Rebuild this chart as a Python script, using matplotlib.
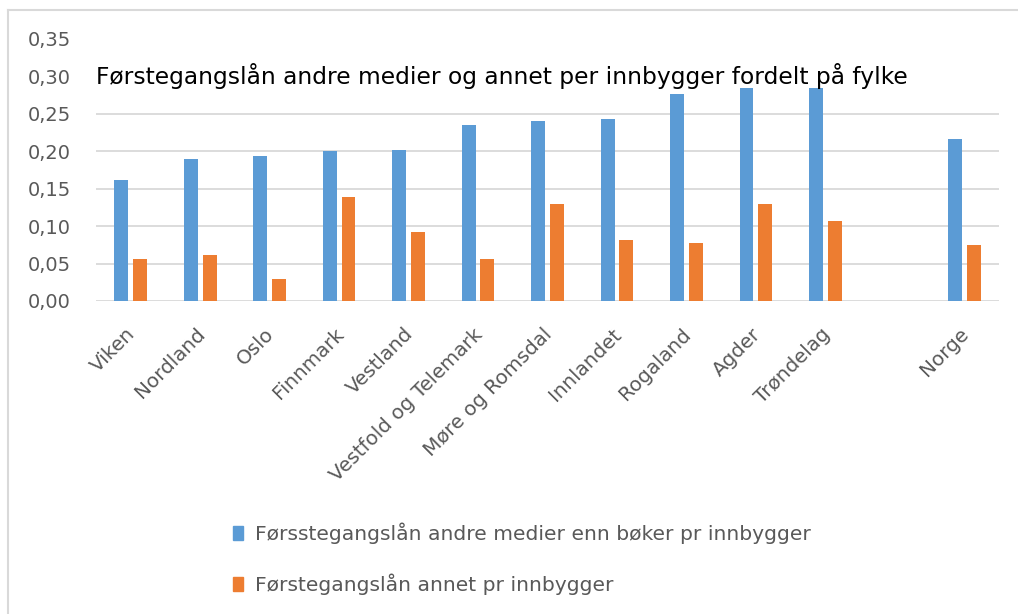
import matplotlib.pyplot as plt
import numpy as np
from matplotlib.patches import Patch, Rectangle
from matplotlib.lines import Line2D
from matplotlib.ticker import FuncFormatter
from matplotlib.transforms import ScaledTranslation

# fylker (tom plass før Norge)
fylker = ["Viken", "Nordland", "Oslo", "Finnmark", "Vestland",
          "Vestfold og Telemark", "Møre og Romsdal", "Innlandet",
          "Rogaland", "Agder", "Trøndelag", "", "Norge"]

# førstegangslån pr innbygger
andre_medier = [0.162, 0.190, 0.194, 0.200, 0.202, 0.235, 0.240, 0.243,
                0.277, 0.295, 0.300, np.nan, 0.216]
annet = [0.056, 0.061, 0.030, 0.139, 0.092, 0.056, 0.130, 0.081,
         0.078, 0.130, 0.107, np.nan, 0.075]

blue = "#5B9BD5"
orange = "#ED7D31"
grey = "#595959"

plt.rcParams["font.family"] = ["DejaVu Sans"]

fig = plt.figure(figsize=(10.18, 6.14), dpi=100)
ax = fig.add_axes([96 / 1018, 1 - 301 / 614, (999 - 96) / 1018, (301 - 39) / 614])

x = np.arange(len(fylker))
w = 0.2
ax.bar(x - 0.135, andre_medier, w, color=blue, zorder=2)
ax.bar(x + 0.135, annet, w, color=orange, zorder=2)

ax.set_xlim(-0.5, len(fylker) - 0.5)
ax.set_ylim(0, 0.35)
ax.set_yticks(np.arange(0, 0.351, 0.05))
ax.yaxis.set_major_formatter(FuncFormatter(lambda v, p: f"{v:.2f}".replace(".", ",")))
ax.grid(axis="y", color="#d9d9d9", lw=1.3, zorder=0)
for s in ax.spines.values():
    s.set_visible(False)
ax.tick_params(length=0)
ax.tick_params(axis="y", labelsize=14, labelcolor=grey, pad=18)
ax.set_xticks(x)
ax.set_xticklabels(fylker, rotation=45, ha="right", rotation_mode="anchor",
                   fontsize=14.3, color=grey)
ax.tick_params(axis="x", pad=17)
shift = ScaledTranslation(-5 / 100, 0, fig.dpi_scale_trans)
for lab in ax.get_xticklabels():
    lab.set_transform(lab.get_transform() + shift)

# hvit boks bak tittelen (dekker toppen av plottet)
ax.add_patch(Rectangle((-0.5, 0.284), len(fylker), 0.07, facecolor="white",
                       edgecolor="none", zorder=3, clip_on=False))
ax.text(-0.5, 0.30, "Førstegangslån andre medier og annet per innbygger fordelt på fylke",
        fontsize=16.8, color="black", va="center", ha="left", zorder=4)

handles = [Patch(color=blue), Patch(color=orange)]
labels = ["Førsstegangslån andre medier enn bøker pr innbygger",
          "Førstegangslån annet pr innbygger"]
fig.legend(handles, labels, loc="upper left", bbox_to_anchor=(0.229, 0.149),
           frameon=False, fontsize=14.6, labelcolor=grey, handlelength=0.5,
           handleheight=0.68, handletextpad=0.6, labelspacing=1.45,
           borderpad=0, borderaxespad=0)

# ramme rundt diagrammet
fig.add_artist(Line2D([8 / 1018, 1], [1 - 10 / 614, 1 - 10 / 614],
                      transform=fig.transFigure, color="#d9d9d9", lw=1.5))
fig.add_artist(Line2D([8 / 1018, 8 / 1018], [0, 1 - 10 / 614],
                      transform=fig.transFigure, color="#d9d9d9", lw=1.5))

fig.savefig("out.png", dpi=100)
